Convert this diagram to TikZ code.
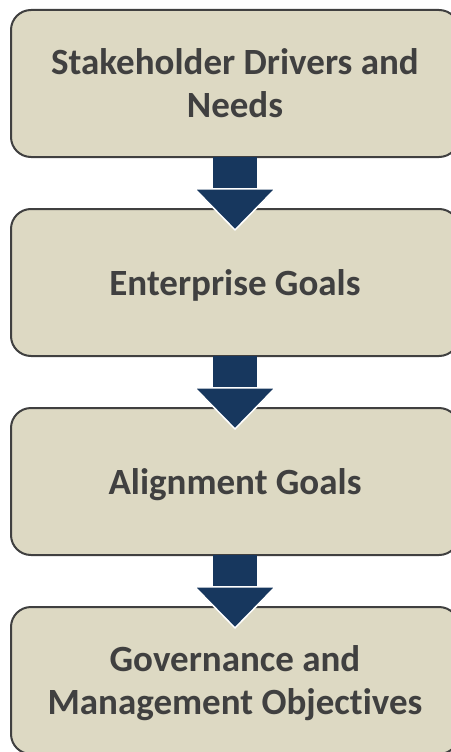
\documentclass[tikz,border=0pt]{standalone}
\usepackage{fontspec}
\setmainfont{Carlito}[Ligatures=NoCommon]
\usetikzlibrary{arrows.meta}
\definecolor{boxfill}{HTML}{DDD9C3}
\definecolor{boxline}{HTML}{404040}
\definecolor{arrowblue}{HTML}{17375E}
\tikzset{
	goalstyle/.style={rectangle,rounded corners=20pt,draw=boxline,line width=2pt,fill=boxfill,
		minimum width=448pt,minimum height=147pt,outer sep=0pt,align=center,text depth=0pt,
		text=boxline,font=\fontsize{37}{43}\selectfont\bfseries},
	flowstyle/.style={draw=arrowblue,line width=44pt,shorten >=-22pt,
		-{Triangle[length=43pt,width=84pt,line width=1.5pt,color=white,fill=arrowblue]}}
}
\begin{document}
\begin{tikzpicture}[x=1pt,y=-1pt]
	\useasboundingbox (0,0) rectangle (450,752);
	\node[goalstyle] (drivers) at (235,83.5) {Stakeholder Drivers and\\Needs};
	\node[goalstyle] (enterprise) at (235,282.5) {Enterprise Goals};
	\node[goalstyle] (alignment) at (235,481.5) {Alignment Goals};
	\node[goalstyle] (objectives) at (235,680.5) {Governance and\\Management Objectives};
	\draw[flowstyle] (drivers)--(enterprise);
	\draw[flowstyle] (enterprise)--(alignment);
	\draw[flowstyle] (alignment)--(objectives);
\end{tikzpicture}
\end{document}
